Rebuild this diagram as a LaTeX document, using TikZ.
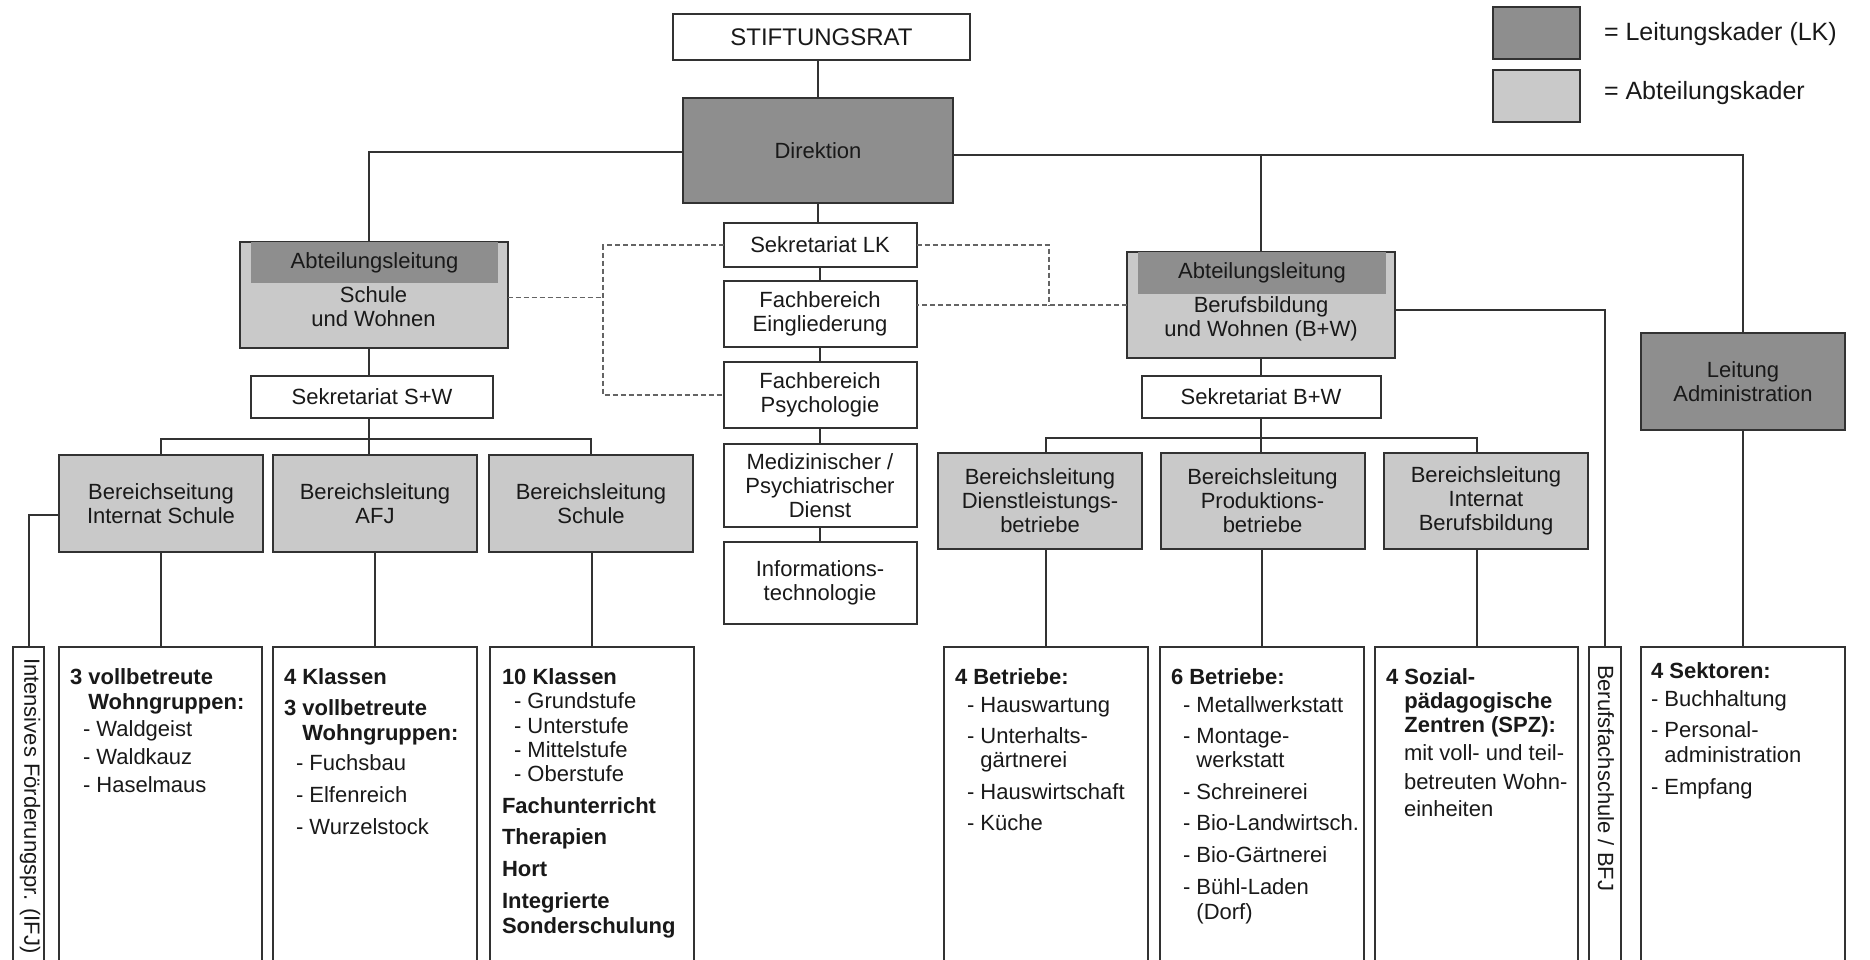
\documentclass[tikz,border=0pt]{standalone}
\usepackage{fontspec}
\setmainfont{Liberation Sans}
\newcommand\myfs{\fontsize{22}{24}\selectfont}
\newcommand\myfsL{\fontsize{24}{26}\selectfont}
\newcommand\myfsX{\fontsize{25}{28}\selectfont}
\definecolor{dk}{RGB}{142,142,142}
\definecolor{lt}{RGB}{201,201,201}
\definecolor{ln}{RGB}{50,50,50}
\definecolor{dsh}{RGB}{100,100,100}
\definecolor{tx}{RGB}{25,25,25}
\begin{document}
\begin{tikzpicture}[x=1pt,y=-1pt,
 every node/.style={inner sep=0pt,outer sep=0pt,text=tx},
 bx/.style={draw=ln,line width=2pt,fill=white,align=center,font=\myfs},
 dkbx/.style={bx,fill=dk},
 ltbx/.style={bx,fill=lt},
 conn/.style={draw=ln,line width=2pt},
 dashline/.style={draw=dsh,line width=1.8pt,dash pattern=on 5pt off 3pt},
 lst/.style={align=left,font=\myfs,anchor=north west},
 vtext/.style={rotate=-90,anchor=west,font=\myfs},
 hdr/.style={fill=dk,font=\myfs},
 botbox/.style={bx,minimum height=340pt,anchor=north}]
\useasboundingbox (0,0) rectangle (1870,960);
\fill[white] (0,0) rectangle (1870,960);
\clip (0,0) rectangle (1870,960);

% legend
\node[dkbx,minimum width=87pt,minimum height=52pt] (lg1) at (1536.5,33) {};
\node[ltbx,minimum width=87pt,minimum height=52pt] (lg2) at (1536.5,96) {};
\node[font=\myfsX,anchor=base west] (lg1t) at (1604,41) {= Leitungskader (LK)};
\node[font=\myfsX,anchor=base west] (lg2t) at (1604,100) {= Abteilungskader};

% top and centre column
\node[bx,font=\myfsL,minimum width=297pt,minimum height=46pt] (stift) at (821.5,37) {STIFTUNGSRAT};
\node[dkbx,minimum width=270pt,minimum height=105pt] (dir) at (818,150.5) {Direktion};
\node[bx,minimum width=193pt,minimum height=44pt] (seklk) at (820,245) {Sekretariat LK};
\node[bx,minimum width=193pt,minimum height=66pt] (fe) at (820,314) {Fachbereich\\Eingliederung};
\node[bx,minimum width=193pt,minimum height=66pt] (fp) at (820,395) {Fachbereich\\Psychologie};
\node[bx,minimum width=193pt,minimum height=83pt] (med) at (820,485.5) {Medizinischer /\\Psychiatrischer\\Dienst};
\node[bx,minimum width=193pt,minimum height=82pt] (it) at (820,583) {Informations-\\technologie};

% left department
\node[ltbx,minimum width=268pt,minimum height=106pt] (alsw) at (373.5,294.5) {};
\node[hdr,minimum width=247pt,minimum height=41pt] (alswh) at (374.5,262.5) {Abteilungsleitung};
\node[font=\myfs,align=center] (alswt) at (373.5,307) {Schule\\und Wohnen};
\node[bx,minimum width=242pt,minimum height=42pt] (seksw) at (372,397) {Sekretariat S+W};
\coordinate (xL) at (369,0);
\coordinate (brL) at (369,439);
\node[ltbx,minimum width=204pt,minimum height=97pt] (b1) at (161,503.5) {Bereichseitung\\Internat Schule};
\node[ltbx,minimum width=204pt,minimum height=97pt] (b2) at (375,503.5) {Bereichsleitung\\AFJ};
\node[ltbx,minimum width=204pt,minimum height=97pt] (b3) at (591,503.5) {Bereichsleitung\\Schule};
\node[botbox,minimum width=31pt] (ifj) at (28.5,647) {};
\node[botbox,minimum width=203pt] (c1) at (160.5,647) {};
\node[botbox,minimum width=204pt] (c2) at (375,647) {};
\node[botbox,minimum width=204pt] (c3) at (592,647) {};

% right department
\node[ltbx,minimum width=268pt,minimum height=106pt] (albw) at (1261,305) {};
\node[hdr,minimum width=248pt,minimum height=42pt] (albwh) at (1262,273) {Abteilungsleitung};
\node[font=\myfs,align=center] (albwt) at (1261,319) {Berufsbildung\\und Wohnen (B+W)};
\node[bx,minimum width=239pt,minimum height=42pt] (sekbw) at (1261,397) {Sekretariat B+W};
\coordinate (brR) at (1261,438);
\node[ltbx,minimum width=204pt,minimum height=96pt] (b4) at (1040,501) {Bereichsleitung\\Dienstleistungs-\\betriebe};
\node[ltbx,minimum width=204pt,minimum height=96pt] (b5) at (1262.5,501) {Bereichsleitung\\Produktions-\\betriebe};
\node[ltbx,minimum width=204pt,minimum height=96pt] (b6) at (1486,501) {Bereichsleitung\\Internat\\Berufsbildung};
\node[botbox,minimum width=204pt] (c4) at (1046,647) {};
\node[botbox,minimum width=204pt] (c5) at (1262,647) {};
\node[botbox,minimum width=203pt] (c6) at (1476.5,647) {};
\node[botbox,minimum width=32pt] (bfj) at (1604.5,647) {};
\node[dkbx,minimum width=204pt,minimum height=97pt] (adm) at (1743,381.5) {Leitung\\Administration};
\node[botbox,minimum width=204pt] (cadm) at (1743,647) {};

% connectors
\coordinate (dW) at ([yshift=-1.5pt]dir.west);
\coordinate (dE) at ([yshift=-5pt]dir.east);
\draw[conn] (dir.north) -- (dir.north |- stift.south);
\draw[conn] (dir.south) -- (dir.south |- seklk.north);
\draw[conn] (seklk) -- (fe);
\draw[conn] (fe) -- (fp);
\draw[conn] (fp) -- (med);
\draw[conn] (med) -- (it);
\draw[conn] (dW) -| (xL |- alsw.north);
\draw[conn] (xL |- alsw.south) -- (xL |- seksw.north);
\draw[conn] (xL |- seksw.south) -- (brL);
\draw[conn] (b1.north) |- (brL) -| (b3.north);
\draw[conn] (brL) -- (brL |- b2.north);
\draw[conn] (b1.south) -- (b1.south |- c1.north);
\draw[conn] (c2.north) -- (c2.north |- b2.south);
\draw[conn] (c3.north) -- (c3.north |- b3.south);
\draw[conn] ([yshift=-11pt]b1.west) -| (ifj.north);

\draw[conn] (dE) -| (adm.north);
\draw[conn] (albw.north) -- (albw.north |- dE);
\draw[conn] (albw.south) -- (sekbw.north);
\draw[conn] (sekbw.south) -- (brR);
\draw[conn] (c4.north |- b4.north) |- (brR) -| (c6.north |- b6.north);
\draw[conn] (brR) -- (brR |- b5.north);
\draw[conn] (c4.north) -- (c4.north |- b4.south);
\draw[conn] (c5.north) -- (c5.north |- b5.south);
\draw[conn] (c6.north) -- (c6.north |- b6.south);
\draw[conn] ([yshift=-5pt]albw.east) -| (bfj.north);
\draw[conn] (adm.south) -- (cadm.north);

% dashed links
\coordinate (dL) at (603,0);
\coordinate (dR) at (1049,0);
\draw[dashline] (seklk.west) -- (seklk.west -| dL) -- (fp.west -| dL) -- (fp.west);
\draw[dashline] ([yshift=-3pt]alsw.east) -- ([yshift=-3pt]alsw.east -| dL);
\draw[dashline] (seklk.east) -- (seklk.east -| dR) -- (albw.west -| dR);
\draw[dashline] (albw.west) -- (albw.west -| fe.east);

% vertical texts
\node[vtext] (ifjt) at (30,658) {Intensives Förderungspr. (IFJ)};
\node[vtext] (bfjt) at (1606,665) {Berufsfachschule / BFJ};

% list texts
\node[lst] (t1) at (70,669) {\textbf{3 vollbetreute}\\[1pt]
\textbf{\phantom{3 }Wohngruppen:}\\[3pt]
\hspace*{13pt}- Waldgeist\\[4pt]
\hspace*{13pt}- Waldkauz\\[4pt]
\hspace*{13pt}- Haselmaus};

\node[lst] (t2) at (284,669) {\textbf{4 Klassen}\\[7pt]
\textbf{3 vollbetreute}\\[1pt]
\textbf{\phantom{3 }Wohngruppen:}\\[6pt]
\hspace*{12pt}- Fuchsbau\\[8pt]
\hspace*{12pt}- Elfenreich\\[8pt]
\hspace*{12pt}- Wurzelstock};

\node[lst] (t3) at (502,669) {\textbf{10 Klassen}\\[0pt]
\hspace*{12pt}- Grundstufe\\[1pt]
\hspace*{12pt}- Unterstufe\\[0pt]
\hspace*{12pt}- Mittelstufe\\[0pt]
\hspace*{12pt}- Oberstufe\\[8pt]
\textbf{Fachunterricht}\\[7pt]
\textbf{Therapien}\\[8pt]
\textbf{Hort}\\[8pt]
\textbf{Integrierte}\\[1pt]
\textbf{Sonderschulung}};

\node[lst] (t4) at (955,669) {\textbf{4 Betriebe:}\\[4pt]
\hspace*{12pt}- Hauswartung\\[7pt]
\hspace*{12pt}- Unterhalts-\\[0pt]
\hspace*{12pt}\phantom{- }gärtnerei\\[8pt]
\hspace*{12pt}- Hauswirtschaft\\[7pt]
\hspace*{12pt}- Küche};

\node[lst] (t5) at (1171,669) {\textbf{6 Betriebe:}\\[4pt]
\hspace*{12pt}- Metallwerkstatt\\[7pt]
\hspace*{12pt}- Montage-\\[0pt]
\hspace*{12pt}\phantom{- }werkstatt\\[8pt]
\hspace*{12pt}- Schreinerei\\[7pt]
\hspace*{12pt}- Bio-Landwirtsch.\\[8pt]
\hspace*{12pt}- Bio-Gärtnerei\\[8pt]
\hspace*{12pt}- Bühl-Laden\\[1pt]
\hspace*{12pt}\phantom{- }(Dorf)};

\node[lst] (t6) at (1386,669) {\textbf{4 Sozial-}\\[0pt]
\textbf{\phantom{4 }pädagogische}\\[0pt]
\textbf{\phantom{4 }Zentren (SPZ):}\\[4pt]
\hspace*{18pt}mit voll- und teil-\\[5pt]
\hspace*{18pt}betreuten Wohn-\\[3pt]
\hspace*{18pt}einheiten};

\node[lst] (t7) at (1651,663) {\textbf{4 Sektoren:}\\[4pt]
- Buchhaltung\\[7pt]
- Personal-\\[1pt]
\phantom{- }administration\\[8pt]
- Empfang};
\end{tikzpicture}
\end{document}
